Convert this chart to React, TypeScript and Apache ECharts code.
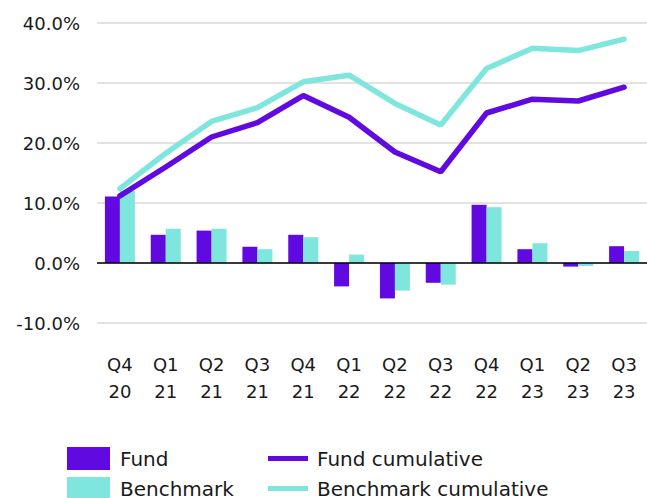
import React, { useEffect, useRef } from "react";
import * as echarts from "echarts";

const categories = ["Q4\n20", "Q1\n21", "Q2\n21", "Q3\n21", "Q4\n21", "Q1\n22", "Q2\n22", "Q3\n22", "Q4\n22", "Q1\n23", "Q2\n23", "Q3\n23"];
const fund = [11.1, 4.7, 5.4, 2.7, 4.7, -3.9, -5.9, -3.3, 9.7, 2.3, -0.6, 2.8];
const benchmark = [12.0, 5.7, 5.7, 2.3, 4.3, 1.4, -4.6, -3.6, 9.3, 3.3, -0.5, 2.0];
const fundCumulative = [11.2, 16.0, 21.0, 23.4, 27.9, 24.3, 18.5, 15.2, 25.0, 27.3, 27.0, 29.3];
const benchmarkCumulative = [12.4, 18.3, 23.6, 25.9, 30.2, 31.3, 26.6, 23.0, 32.4, 35.8, 35.4, 37.3];
const yTicks = { min: -10, max: 40, interval: 10 };

const PURPLE = "#6009E0";
const CYAN = "#7FE6DE";
const FONT = "DejaVu Sans";

const legendText = (pad: number) => ({
  color: "#1a1a1a",
  fontFamily: FONT,
  fontSize: 20,
  lineHeight: 23,
  padding: [0, 0, 0, pad],
});

const barLegend = (name: string, top: number) => ({
  left: 67,
  top,
  padding: 0,
  itemWidth: 43,
  itemHeight: 23,
  icon: "rect",
  data: [name],
  textStyle: legendText(5),
});

const lineLegend = (name: string, color: string, top: number) => ({
  left: 268,
  top,
  padding: 0,
  itemWidth: 40,
  itemHeight: 5,
  data: [{ name, icon: "rect", itemStyle: { color } }],
  textStyle: legendText(4),
});

export default function App() {
  const ref = useRef<HTMLDivElement>(null);
  useEffect(() => {
    document.body.style.margin = "0";
    const chart = echarts.init(ref.current!, null, { renderer: "svg" });
    chart.setOption({
      animation: false,
      grid: { left: 97, right: -7, top: 23, height: 300 },
      xAxis: {
        type: "category",
        data: categories,
        axisLine: { show: false, onZero: false },
        axisTick: { show: false },
        axisLabel: {
          interval: 0,
          margin: 28,
          color: "#1a1a1a",
          fontFamily: FONT,
          fontSize: 18,
          lineHeight: 27,
        },
      },
      yAxis: {
        type: "value",
        min: yTicks.min,
        max: yTicks.max,
        interval: yTicks.interval,
        axisLine: { show: false },
        axisTick: { show: false },
        splitLine: { lineStyle: { color: "#d9d9d9", width: 1.5 } },
        axisLabel: {
          margin: 17,
          color: "#1a1a1a",
          fontFamily: FONT,
          fontSize: 18,
          formatter: (v: number) => v.toFixed(1) + "%",
        },
      },
      legend: [
        barLegend("Fund", 447),
        barLegend("Benchmark", 477),
        lineLegend("Fund cumulative", PURPLE, 447),
        lineLegend("Benchmark cumulative", CYAN, 477),
      ],
      series: [
        {
          name: "Fund",
          type: "bar",
          data: fund,
          barWidth: 15,
          barGap: "0%",
          itemStyle: { color: PURPLE },
          z: 2,
          markLine: {
            silent: true,
            symbol: "none",
            label: { show: false },
            lineStyle: { color: "#000", width: 1.5, type: "solid" },
            data: [{ yAxis: 0 }],
            z: 3,
          },
        },
        {
          name: "Benchmark",
          type: "bar",
          data: benchmark,
          barWidth: 15,
          itemStyle: { color: CYAN },
          z: 2,
        },
        {
          name: "Fund cumulative",
          type: "line",
          data: fundCumulative,
          symbol: "none",
          lineStyle: { color: PURPLE, width: 5.5, cap: "round" },
          itemStyle: { color: PURPLE },
          z: 5,
        },
        {
          name: "Benchmark cumulative",
          type: "line",
          data: benchmarkCumulative,
          symbol: "none",
          lineStyle: { color: CYAN, width: 5.5, cap: "round" },
          itemStyle: { color: CYAN },
          z: 4,
        },
      ],
    });
    return () => chart.dispose();
  }, []);
  return <div ref={ref} style={{ width: 647, height: 498 }} />;
}
